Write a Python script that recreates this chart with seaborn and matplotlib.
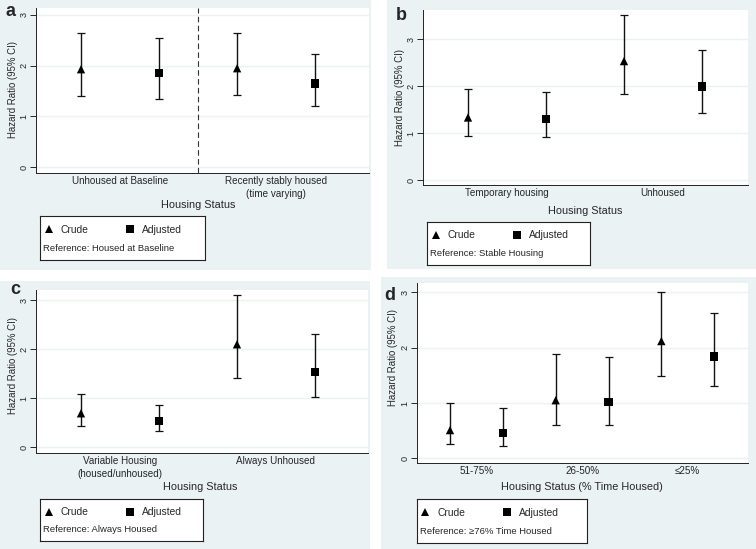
import numpy as np
import pandas as pd
import matplotlib
matplotlib.use("Agg")
import matplotlib.pyplot as plt
from matplotlib.patches import Rectangle
import seaborn as sns

# ---- data ----
groups_a = ["Unhoused at Baseline", "Recently stably housed\n(time varying)"]
crude_a = [1.93, 1.95]
crude_lo_a = [1.41, 1.43]
crude_hi_a = [2.65, 2.64]
adj_a = [1.86, 1.65]
adj_lo_a = [1.35, 1.21]
adj_hi_a = [2.54, 2.24]

groups_b = ["Temporary housing", "Unhoused"]
crude_b = [1.33, 2.53]
crude_lo_b = [0.93, 1.84]
crude_hi_b = [1.93, 3.50]
adj_b = [1.30, 1.99]
adj_lo_b = [0.91, 1.43]
adj_hi_b = [1.88, 2.77]

groups_c = ["Variable Housing\n(housed/unhoused)", "Always Unhoused"]
crude_c = [0.69, 2.10]
crude_lo_c = [0.42, 1.41]
crude_hi_c = [1.08, 3.10]
adj_c = [0.53, 1.54]
adj_lo_c = [0.33, 1.03]
adj_hi_c = [0.86, 2.31]

groups_d = ["51-75%", "26-50%", "\u226425%"]
crude_d = [0.51, 1.05, 2.12]
crude_lo_d = [0.26, 0.60, 1.48]
crude_hi_d = [1.00, 1.89, 3.01]
adj_d = [0.46, 1.02, 1.84]
adj_lo_d = [0.23, 0.60, 1.30]
adj_hi_d = [0.91, 1.83, 2.62]

W, H = 756, 549
BG = "#EAF2F3"

sns.set_style("white")
plt.rcParams["font.family"] = ["Liberation Sans", "DejaVu Sans"]

fig = plt.figure(figsize=(W / 100, H / 100), dpi=100)


def rect(x0, y0, x1, y1):
    return [x0 / W, 1 - y1 / H, (x1 - x0) / W, (y1 - y0) / H]


def make_df(groups, crude, clo, chi, adj, alo, ahi):
    rows = []
    for i, g in enumerate(groups):
        rows.append(dict(group=g, series="Crude", x=2 * i, hr=crude[i], lo=clo[i], hi=chi[i]))
        rows.append(dict(group=g, series="Adjusted", x=2 * i + 1, hr=adj[i], lo=alo[i], hi=ahi[i]))
    return pd.DataFrame(rows)


def panel(letter, bg, plot, xlim, ylim, df, groups, xlabel, xlab_pos, ylab_pos,
          legbox, reference, letter_pos, divider=False):
    fig.patches.append(Rectangle((bg[0] / W, 1 - bg[3] / H), (bg[2] - bg[0]) / W,
                                 (bg[3] - bg[1]) / H, transform=fig.transFigure,
                                 facecolor=BG, edgecolor="none", zorder=-10))
    ax = fig.add_axes(rect(*plot))
    ax.set_facecolor("white")
    ax.errorbar(df["x"], df["hr"], yerr=[df["hr"] - df["lo"], df["hi"] - df["hr"]],
                fmt="none", ecolor="#111111", elinewidth=1.0, capsize=3, capthick=0.9,
                zorder=2)
    sns.scatterplot(data=df, x="x", y="hr", style="series",
                    markers={"Crude": "^", "Adjusted": "s"}, color="black",
                    s=36, edgecolor="black", linewidth=0, ax=ax, zorder=3)
    handles, labels = ax.get_legend_handles_labels()
    if ax.legend_ is not None:
        ax.legend_.remove()
    if divider:
        ax.axvline(1.5, color="#333333", lw=0.8, ls=(0, (5, 3)), zorder=1)
    ax.set_xlim(*xlim)
    ax.set_ylim(*ylim)
    ax.set_yticks([0, 1, 2, 3])
    ax.set_yticklabels(["0", "1", "2", "3"], rotation=90, va="center", fontsize=6.6)
    ax.yaxis.grid(True, color=BG, lw=1.0)
    ax.set_axisbelow(True)
    ax.set_xticks([2 * i + 0.5 for i in range(len(groups))])
    ax.set_xticklabels(groups, fontsize=7.1, linespacing=1.45)
    ax.tick_params(axis="x", length=0, pad=2)
    ax.tick_params(axis="y", length=4, width=0.7, pad=1.5, direction="out", left=True)
    for s in ["top", "right"]:
        ax.spines[s].set_visible(False)
    for s in ["left", "bottom"]:
        ax.spines[s].set_color("#222222")
        ax.spines[s].set_linewidth(0.7)
    ax.set_xlabel(xlabel, fontsize=7.8)
    ax.xaxis.set_label_coords(xlab_pos[0] / W, 1 - xlab_pos[1] / H, transform=fig.transFigure)
    ax.xaxis.label.set_va("center")
    ax.set_ylabel("Hazard Ratio (95% CI)", fontsize=6.9)
    ax.yaxis.set_label_coords(ylab_pos[0] / W, 1 - ylab_pos[1] / H, transform=fig.transFigure)
    ax.yaxis.label.set_va("center")

    # legend box
    lax = fig.add_axes(rect(*legbox))
    lax.set_facecolor("white")
    lax.set_xticks([])
    lax.set_yticks([])
    for s in lax.spines.values():
        s.set_color("#222222")
        s.set_linewidth(0.8)
        s.set_visible(True)
    keep = [(h, l) for h, l in zip(handles, labels) if l in ("Crude", "Adjusted")]
    for h, _ in keep:
        try:
            h.set_color("black")
        except Exception:
            pass
        try:
            h.set_markerfacecolor("black")
            h.set_markeredgecolor("black")
            h.set_markersize(5.5)
        except Exception:
            pass
    lax.legend([h for h, _ in keep], [l for _, l in keep], ncol=2, loc="upper left",
               bbox_to_anchor=(-0.02, 0.97), frameon=False, fontsize=7.4,
               handlelength=0.9, handletextpad=0.7, columnspacing=3.6,
               borderaxespad=0.3)
    lax.text(0.018, 0.27, reference, transform=lax.transAxes, va="center", ha="left",
             fontsize=6.8)

    fig.text(letter_pos[0] / W, 1 - letter_pos[1] / H, letter, fontsize=13,
             fontweight="bold", ha="center", va="center")
    return ax


panel("a", (0, 0, 371, 270), (36, 8, 369, 173), (-0.577, 3.69), (-0.118, 3.138),
      make_df(groups_a, crude_a, crude_lo_a, crude_hi_a, adj_a, adj_lo_a, adj_hi_a),
      groups_a, "Housing Status", (198, 205), (13, 90),
      (40, 216, 205, 260), "Reference: Housed at Baseline", (11, 11), divider=True)

panel("b", (387, 0, 756, 269), (423, 10, 748, 185), (-0.577, 3.59), (-0.106, 3.617),
      make_df(groups_b, crude_b, crude_lo_b, crude_hi_b, adj_b, adj_lo_b, adj_hi_b),
      groups_b, "Housing Status", (585, 211), (400, 97),
      (427, 222, 590, 265), "Reference: Stable Housing", (401, 15))

panel("c", (0, 281, 370, 549), (36, 290, 368, 453), (-0.577, 3.68), (-0.122, 3.21),
      make_df(groups_c, crude_c, crude_lo_c, crude_hi_c, adj_c, adj_lo_c, adj_hi_c),
      groups_c, "Housing Status", (200, 487), (13, 365),
      (40, 499, 203, 541), "Reference: Always Housed", (15, 289))

panel("d", (381, 277, 756, 549), (417, 283, 748, 463), (-0.625, 5.64), (-0.085, 3.17),
      make_df(groups_d, crude_d, crude_lo_d, crude_hi_d, adj_d, adj_lo_d, adj_hi_d),
      groups_d, "Housing Status (% Time Housed)", (582, 487), (393, 358),
      (417, 499, 587, 543), "Reference: \u226576% Time Housed", (390, 295))

fig.savefig("out.png", dpi=100)
